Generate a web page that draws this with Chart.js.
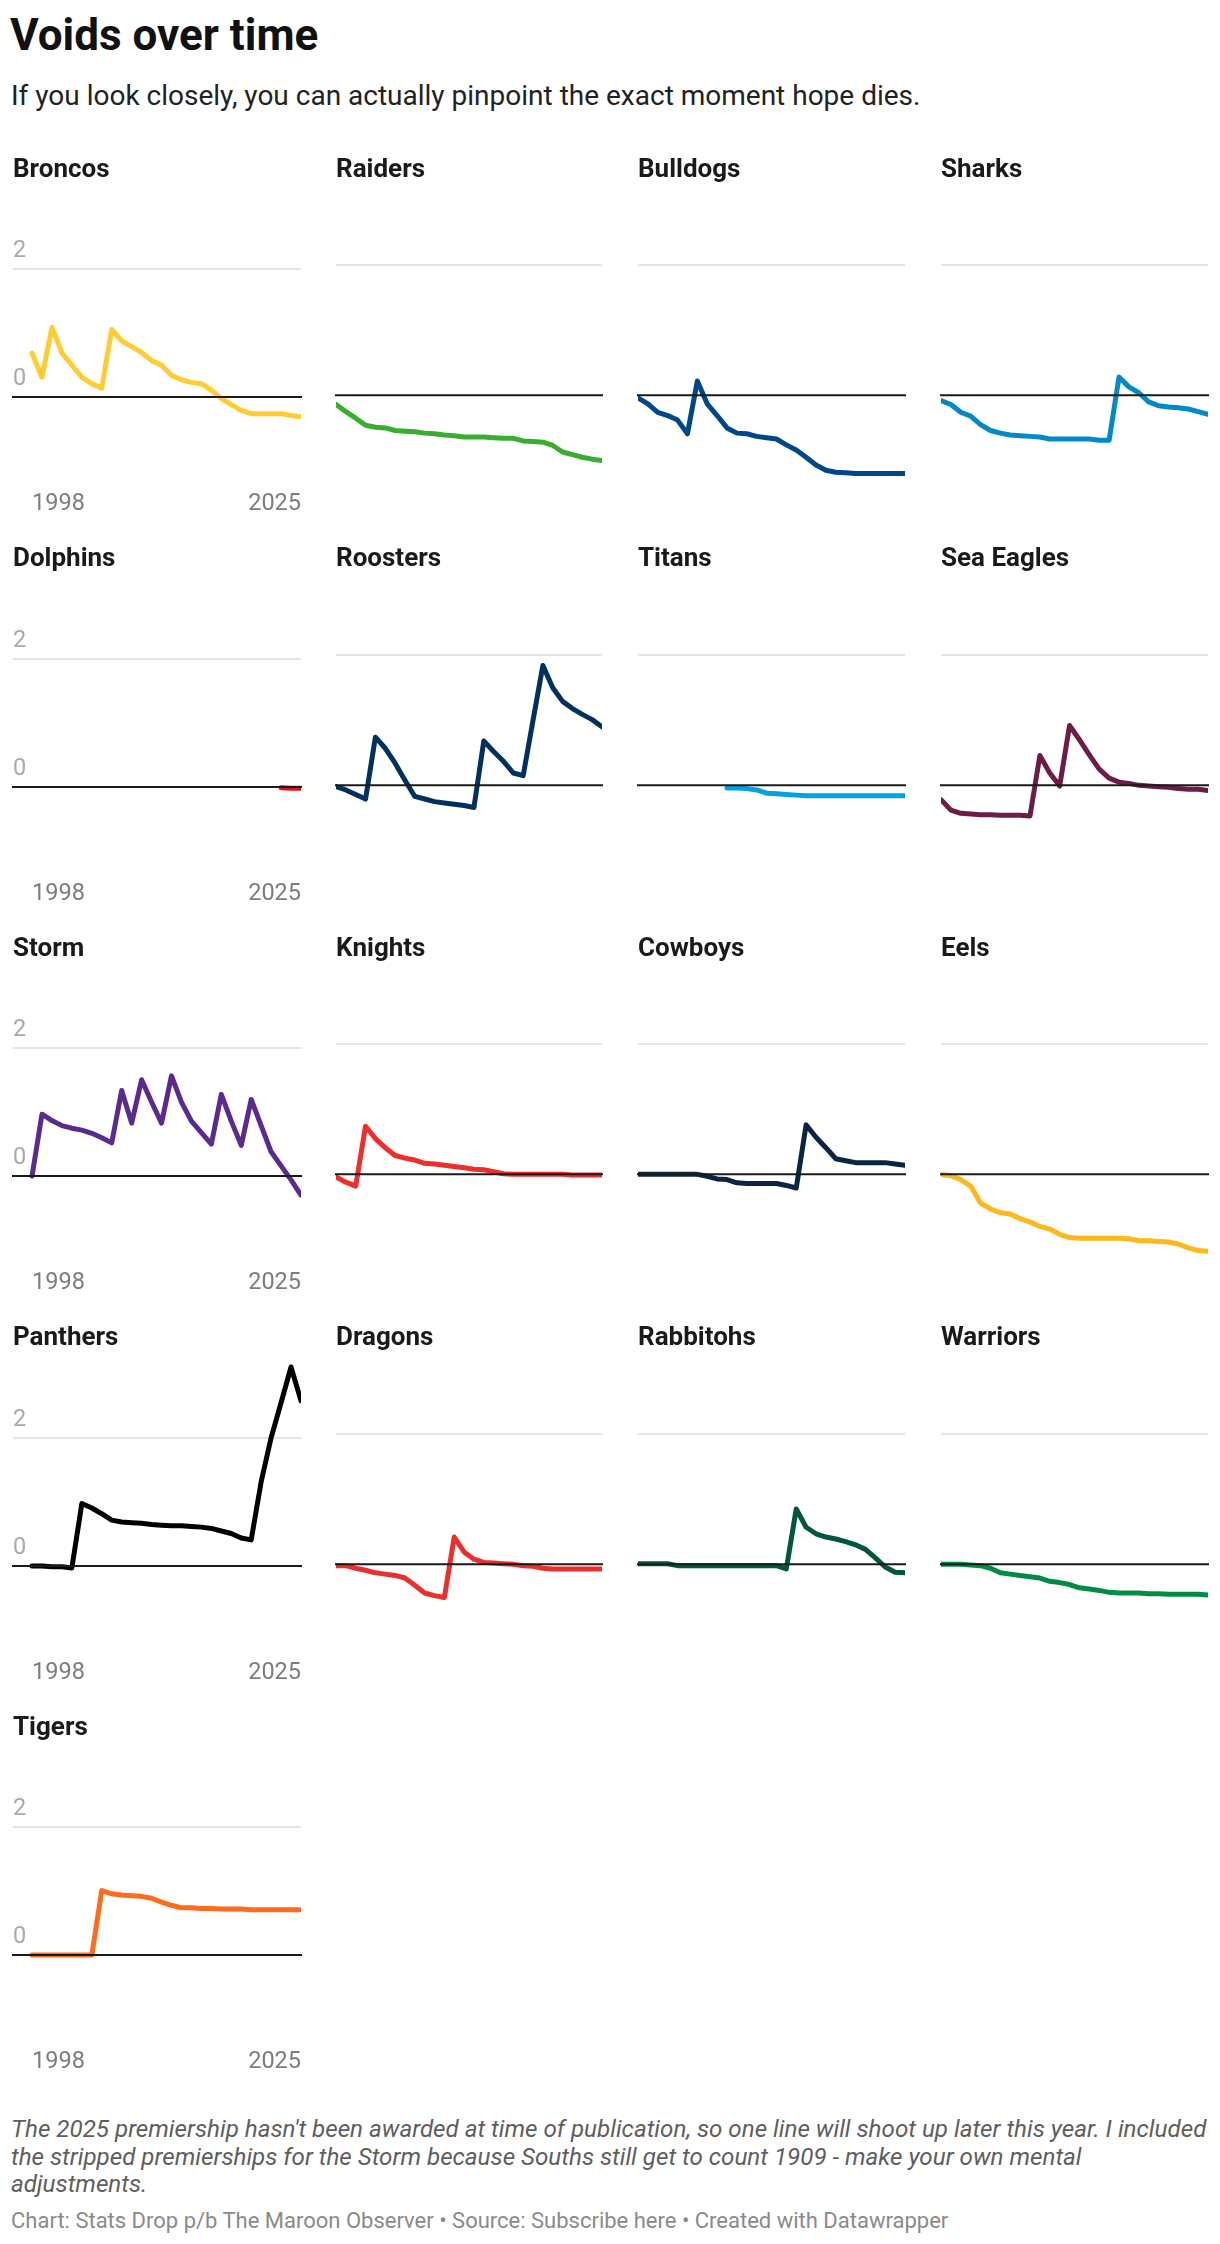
<!DOCTYPE html>
<html><head><meta charset="utf-8">
<script src="https://cdn.jsdelivr.net/npm/chart.js@4.4.1/dist/chart.umd.min.js"></script>
<style>
html,body{margin:0;padding:0;background:#fff;}
#root{position:relative;width:1220px;height:2244px;font-family:Roboto,'Noto Sans',sans-serif;overflow:hidden;}
.t{position:absolute;white-space:nowrap;line-height:1;}
canvas{position:absolute;}
</style></head><body><div id="root"></div>
<script>
// ---- data ----
const years = [1998,1999,2000,2001,2002,2003,2004,2005,2006,2007,2008,2009,2010,2011,2012,2013,2014,2015,2016,2017,2018,2019,2020,2021,2022,2023,2024,2025];
const yTicks = [0, 2];
const xTickLabels = [1998, 2025];
const teams = ['Broncos','Raiders','Bulldogs','Sharks','Dolphins','Roosters','Titans','Sea Eagles','Storm','Knights','Cowboys','Eels','Panthers','Dragons','Rabbitohs','Warriors','Tigers'];
const broncos   = [0.69,0.31,1.09,0.69,0.50,0.31,0.21,0.14,1.06,0.88,0.79,0.70,0.57,0.50,0.34,0.27,0.23,0.21,0.11,-0.02,-0.12,-0.21,-0.26,-0.26,-0.26,-0.26,-0.29,-0.31];
const raiders   = [-0.14,-0.25,-0.35,-0.46,-0.49,-0.50,-0.54,-0.55,-0.56,-0.58,-0.59,-0.61,-0.62,-0.64,-0.64,-0.64,-0.65,-0.66,-0.66,-0.70,-0.71,-0.72,-0.77,-0.87,-0.91,-0.95,-0.98,-1.00];
const bulldogs  = [-0.04,-0.13,-0.26,-0.31,-0.38,-0.59,0.22,-0.13,-0.31,-0.50,-0.58,-0.59,-0.63,-0.65,-0.67,-0.76,-0.84,-0.95,-1.07,-1.15,-1.18,-1.19,-1.20,-1.20,-1.20,-1.20,-1.20,-1.20];
const sharks    = [-0.08,-0.14,-0.26,-0.32,-0.45,-0.54,-0.58,-0.61,-0.62,-0.63,-0.64,-0.67,-0.67,-0.67,-0.67,-0.67,-0.69,-0.69,0.28,0.13,0.04,-0.10,-0.16,-0.18,-0.19,-0.21,-0.25,-0.29];
const dolphins  = [null,null,null,null,null,null,null,null,null,null,null,null,null,null,null,null,null,null,null,null,null,null,null,null,null,-0.01,-0.02,-0.02];
const roosters  = [-0.02,-0.07,-0.14,-0.21,0.74,0.57,0.34,0.08,-0.17,-0.21,-0.25,-0.27,-0.29,-0.31,-0.34,0.68,0.52,0.37,0.19,0.15,1.00,1.84,1.50,1.29,1.18,1.09,1.01,0.90];
const titans    = [null,null,null,null,null,null,null,null,null,-0.04,-0.04,-0.05,-0.07,-0.12,-0.13,-0.14,-0.15,-0.16,-0.16,-0.16,-0.16,-0.16,-0.16,-0.16,-0.16,-0.16,-0.16,-0.16];
const seaEagles = [-0.22,-0.38,-0.43,-0.44,-0.45,-0.45,-0.46,-0.46,-0.46,-0.47,0.46,0.19,-0.01,0.92,0.70,0.47,0.25,0.11,0.05,0.03,0.00,-0.01,-0.02,-0.03,-0.05,-0.06,-0.06,-0.08];
const storm     = [0.00,0.97,0.87,0.79,0.75,0.72,0.67,0.60,0.52,1.34,0.83,1.51,1.16,0.83,1.57,1.16,0.86,0.68,0.50,1.28,0.86,0.48,1.20,0.79,0.38,0.16,-0.06,-0.30];
const knights   = [-0.04,-0.12,-0.18,0.74,0.55,0.41,0.29,0.25,0.22,0.17,0.16,0.14,0.12,0.10,0.08,0.07,0.04,0.01,0.00,0.00,0.00,0.00,0.00,0.00,-0.01,-0.01,-0.01,-0.01];
const cowboys   = [0.00,0.00,0.00,0.00,0.00,0.00,0.00,-0.03,-0.07,-0.08,-0.13,-0.14,-0.14,-0.14,-0.14,-0.17,-0.21,0.76,0.57,0.41,0.24,0.21,0.18,0.18,0.18,0.18,0.16,0.14];
const eels      = [0.00,-0.02,-0.08,-0.18,-0.44,-0.53,-0.59,-0.61,-0.68,-0.73,-0.80,-0.84,-0.92,-0.97,-0.98,-0.98,-0.98,-0.98,-0.98,-0.99,-1.02,-1.02,-1.03,-1.04,-1.07,-1.13,-1.17,-1.18];
const panthers  = [0.00,0.00,-0.01,-0.01,-0.03,0.98,0.91,0.82,0.72,0.69,0.68,0.67,0.65,0.64,0.63,0.63,0.62,0.61,0.59,0.55,0.51,0.44,0.41,1.32,2.01,2.56,3.12,2.59];
const dragons   = [-0.02,-0.02,-0.06,-0.09,-0.13,-0.15,-0.17,-0.21,-0.32,-0.44,-0.48,-0.51,0.42,0.19,0.08,0.03,0.02,0.01,0.00,-0.02,-0.03,-0.06,-0.07,-0.07,-0.07,-0.07,-0.07,-0.07];
const rabbitohs = [0.01,0.01,0.01,0.01,-0.02,-0.02,-0.02,-0.02,-0.02,-0.02,-0.02,-0.02,-0.02,-0.02,-0.02,-0.07,0.85,0.57,0.47,0.42,0.39,0.35,0.30,0.23,0.10,-0.04,-0.12,-0.13];
const warriors  = [0.00,0.00,0.00,-0.01,-0.02,-0.06,-0.13,-0.15,-0.17,-0.19,-0.21,-0.26,-0.28,-0.31,-0.36,-0.38,-0.40,-0.43,-0.44,-0.44,-0.44,-0.45,-0.45,-0.46,-0.46,-0.46,-0.46,-0.47];
const tigers    = [0.00,0.00,0.00,0.00,0.00,0.00,0.00,1.01,0.96,0.94,0.93,0.92,0.89,0.83,0.78,0.74,0.74,0.73,0.73,0.72,0.72,0.72,0.71,0.71,0.71,0.71,0.71,0.71];
const series = [broncos,raiders,bulldogs,sharks,dolphins,roosters,titans,seaEagles,storm,knights,cowboys,eels,panthers,dragons,rabbitohs,warriors,tigers];

// ---- styles ----
const lineColors = ['#FFCC33','#39AD2E','#00468B','#008BC4','#E2111B','#00315E','#00A3E0','#6C1D45','#5A2A8E','#EE2E2B','#0B2444','#FFB81C','#000000','#E8302E','#00573A','#008C45','#FF6B1A'];
const cols = [{l:13,r:301,xmin:1996.09},{l:336,r:602,xmin:1998},{l:638,r:905,xmin:1998},{l:941,r:1208,xmin:1998}];
const zeroYs = [395.5, 785, 1174.5, 1564, 1953.5];
const Y_MAX = 3.4, Y_MIN = -1.3, PAD_T = 8, PAD_S = 5, X_AX_H = 40, CANVAS_H = 354;
const unit = (CANVAS_H - PAD_T - X_AX_H) / (Y_MAX - Y_MIN);

Chart.defaults.font.family = 'Roboto';
const root = document.getElementById('root');
function addText(str, left, baseline, size, weight, style, color){
  const d = document.createElement('div');
  d.className = 't'; d.textContent = str;
  d.style.left = left + 'px'; d.style.top = (baseline - 0.842*size) + 'px';
  d.style.fontSize = size + 'px'; d.style.fontWeight = weight; d.style.fontStyle = style; d.style.color = color;
  d.style.zIndex = 2;
  root.appendChild(d); return d;
}
addText('Voids over time', 10, 50, 44, 700, 'normal', '#111');
addText('If you look closely, you can actually pinpoint the exact moment hope dies.', 11, 106, 28, 400, 'normal', '#222');
addText("The 2025 premiership hasn't been awarded at time of publication, so one line will shoot up later this year. I included", 11, 2137, 24.2, 400, 'italic', '#5e5e5e');
addText("the stripped premierships for the Storm because Souths still get to count 1909 - make your own mental", 11, 2165, 24.2, 400, 'italic', '#5e5e5e');
addText("adjustments.", 11, 2192.5, 24.2, 400, 'italic', '#5e5e5e');
addText('Chart: Stats Drop p/b The Maroon Observer \u2022 Source: Subscribe here \u2022 Created with Datawrapper', 11, 2229, 22, 400, 'normal', '#8a8a8a');

const zeroLine = {
  id: 'zeroLine',
  afterDatasetsDraw(chart){
    const {ctx, chartArea, scales} = chart;
    const py = scales.y.getPixelForValue(0);
    ctx.save(); ctx.strokeStyle = '#1a1a1a'; ctx.lineWidth = 2;
    ctx.beginPath(); ctx.moveTo(chartArea.left - 1, py); ctx.lineTo(chartArea.right + 1, py); ctx.stroke();
    ctx.restore();
  }
};

teams.forEach((name, i) => {
  const row = Math.floor(i / 4), col = i % 4;
  const c = cols[col], zy = zeroYs[row];
  const first = col === 0;
  addText(name, c.l, zy - 219, 26, 700, 'normal', '#1a1a1a');
  const cv = document.createElement('canvas');
  const w = (c.r - c.l) + 2*PAD_S;
  cv.width = w; cv.height = CANVAS_H;
  cv.style.width = w + 'px'; cv.style.height = CANVAS_H + 'px';
  cv.style.left = (c.l - PAD_S) + 'px';
  cv.style.top = (zy - Y_MAX*unit - PAD_T) + 'px';
  root.appendChild(cv);
  const pts = years.map((yr, k) => ({x: yr, y: series[i][k]}));
  new Chart(cv, {
    type: 'line',
    data: { datasets: [{ data: pts, borderColor: lineColors[i], borderWidth: 5, pointRadius: 0, tension: 0,
      borderJoinStyle: 'round', borderCapStyle: 'round', spanGaps: false, fill: false }] },
    options: {
      responsive: false, animation: false, events: [],
      layout: { padding: { top: PAD_T, left: PAD_S, right: PAD_S, bottom: 0 } },
      plugins: { legend: { display: false }, tooltip: { enabled: false } },
      scales: {
        x: { type: 'linear', min: c.xmin, max: 2025,
          grid: { display: false }, border: { display: false },
          afterBuildTicks: s => { s.ticks = first ? xTickLabels.map(v => ({value: v})) : []; },
          afterFit: s => { s.height = X_AX_H; },
          ticks: { display: first, align: 'inner', padding: 2, autoSkip: false, maxRotation: 0, minRotation: 0,
            font: { family: 'Roboto', size: 23.5 }, color: '#7d7d7d', callback: v => String(v) } },
        y: { min: Y_MIN, max: Y_MAX,
          afterBuildTicks: s => { s.ticks = yTicks.map(v => ({value: v})); },
          afterFit: s => { s.width = 0; },
          grid: { color: ctx => (ctx.tick && ctx.tick.value === 0) ? 'rgba(0,0,0,0)' : '#e4e4e4', lineWidth: 2, drawTicks: false },
          border: { display: false },
          ticks: { display: first, mirror: true, padding: 0, labelOffset: -18,
            font: { family: 'Roboto', size: 23.5 }, color: '#a9a9a9', callback: v => String(v) } }
      }
    },
    plugins: [zeroLine]
  });
});
</script></body></html>
